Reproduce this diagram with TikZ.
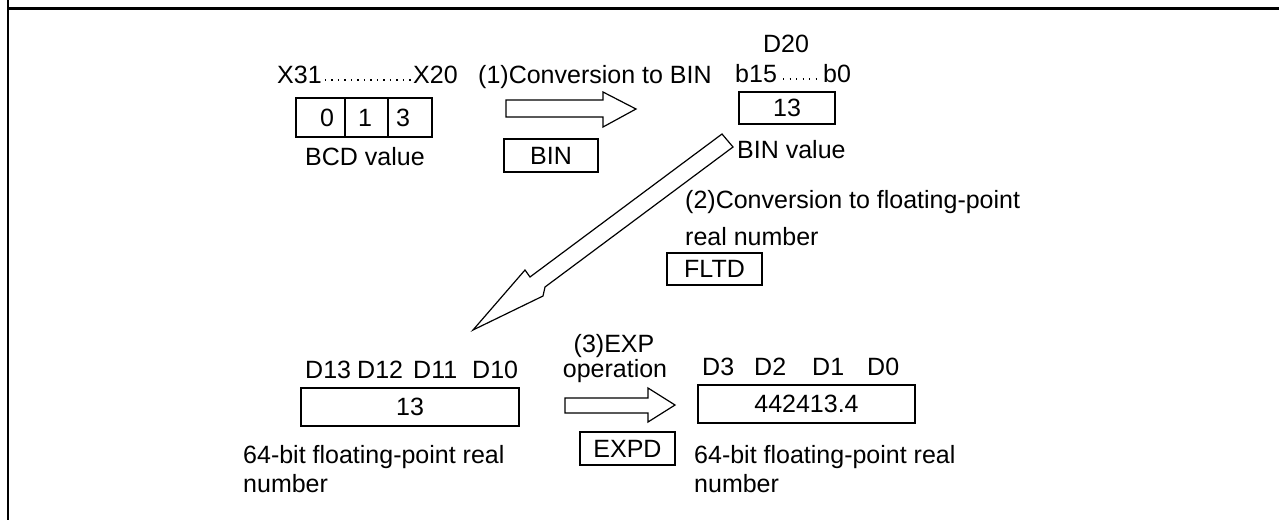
\documentclass[tikz,border=0pt]{standalone}
\usepackage{fontspec}
\setmainfont{Liberation Sans}
\usetikzlibrary{positioning}

\begin{document}
\begin{tikzpicture}[x=1pt, y=-1pt,
  txt/.style={inner sep=0pt, font=\fontsize{25}{30}\selectfont},
  lbl/.style={txt, anchor=base west},
  reg/.style={txt, draw, line width=1.5pt, minimum height=38pt},
  cmd/.style={txt, draw, line width=1.5pt, minimum width=95pt, minimum height=33pt},
  blockarr/.style={draw, line width=1.2pt, line join=miter, fill=white},
  dots/.style={line width=1.3pt, dash pattern=on 1.3pt off 5.2pt}
]
\useasboundingbox (0,0) rectangle (1279,520);
\draw[line width=3pt] (7,8.5) -- (1279,8.5);
\draw[line width=2pt] (7.5,0) -- (7.5,520);

\node[lbl] (x31) at (277,83) {X31};
\node[lbl] (x20) at (413,83) {X20};
\draw[dots] ([xshift=3pt,yshift=3pt]x31.base east) -- ([xshift=-2pt,yshift=3pt]x20.base west);
\node[reg, minimum width=49pt, minimum height=39pt] (bcd0) at (320.5,117.5) {};
\node[reg, minimum width=43pt, minimum height=39pt] (bcd1) at (366.5,117.5) {};
\node[reg, minimum width=44pt, minimum height=39pt] (bcd2) at (410,117.5) {};
\node[txt] at (327,117.5) {0};
\node[txt] at (365,117.5) {1};
\node[txt] at (403,117.5) {3};
\node[lbl] (bcdval) at (305,165) {BCD value};

\node[lbl] (conv1) at (478,83) {(1)Conversion to BIN};
\draw[blockarr] (506,100) -- (603,100) -- (603,92) -- (636,109) -- (603,127) -- (603,117) -- (506,117) -- cycle;
\node[cmd, minimum width=94pt] (bin) at (551,155.5) {BIN};

\node[txt, anchor=base] (d20) at (786,52) {D20};
\node[lbl] (b15) at (735,82) {b15};
\node[lbl] (b0) at (823,82) {b0};
\draw[dots] ([xshift=6pt,yshift=3pt]b15.base east) -- ([xshift=-5pt,yshift=3pt]b0.base west);
\node[reg, minimum width=96pt, minimum height=32pt] (d20val) at (787,108) {13};
\node[lbl] (binval) at (737,158) {BIN value};

\draw[blockarr] (722,134) -- (733,147) -- (545,287) -- (543,296) -- (473,330) -- (525,270) -- (530,277) -- cycle;
\node[lbl] (conv2) at (685,208) {(2)Conversion to floating-point};
\node[lbl] (conv2b) at (685,245) {real number};
\node[cmd, minimum height=32pt] (fltd) at (714.5,269) {FLTD};

\foreach \name/\xpos in {D13/305, D12/357, D11/413, D10/472}
  \node[lbl] (\name) at (\xpos,378) {\name};
\node[reg, minimum width=218pt] (dsrc) at (410,407) {13};
\node[lbl] (srcA) at (243,463) {64-bit floating-point real};
\node[lbl] (srcB) at (243,492) {number};

\node[txt, anchor=base] (exp1) at (614,352) {(3)EXP};
\node[txt, anchor=base] (exp2) at (615,377) {operation};
\draw[blockarr] (565,398) -- (648,398) -- (648,388) -- (675,405) -- (648,422) -- (648,413) -- (565,413) -- cycle;
\node[cmd] (expd) at (627.5,448.5) {EXPD};

\foreach \name/\xpos in {D3/702, D2/754, D1/812, D0/867}
  \node[lbl] (\name) at (\xpos,375) {\name};
\node[reg, minimum width=217pt] (ddst) at (806.5,404) {442413.4};
\node[lbl] (dstA) at (694,463) {64-bit floating-point real};
\node[lbl] (dstB) at (694,492) {number};
\end{tikzpicture}
\end{document}
